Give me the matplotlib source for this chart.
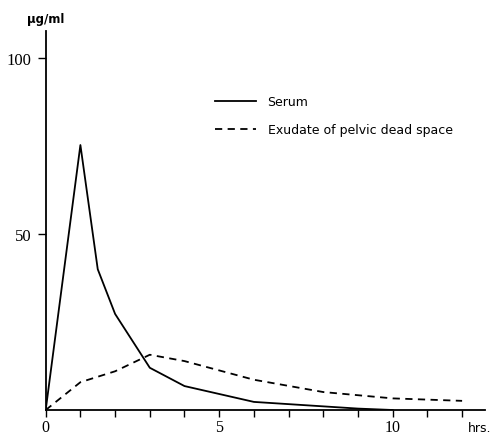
import numpy as np
import matplotlib
matplotlib.use("Agg")
import matplotlib.pyplot as plt

# values (hrs, ug/ml)
serum_t = [0, 1, 1.5, 2, 3, 4, 6, 9, 10]
serum_c = [0, 75.3, 40, 27.3, 12, 6.8, 2.3, 0.4, 0]
exud_t = [0, 1, 2, 3, 4, 6, 8, 10, 12]
exud_c = [0, 7.9, 11, 15.7, 13.9, 8.6, 5.1, 3.3, 2.6]

xtick_pos = list(range(0, 13))
xtick_lab = ['0', '', '', '', '', '5', '', '', '', '', '10', '', '']
ytick_pos = [50, 100]
ytick_lab = ['50', '100']

fig = plt.figure(figsize=(4.95, 4.35), dpi=100)
ax = fig.add_axes([45.7/495, 24/435, (485-45.7)/495, 379/435])

ax.plot(serum_t, serum_c, color='black', lw=1.3, label='Serum')
ax.plot(exud_t, exud_c, color='black', lw=1.3, ls=(0, (4, 3)),
        label='Exudate of pelvic dead space')

ax.set_xlim(0, 12.66)
ax.set_ylim(0, 107.7)
for s in ['top', 'right']:
    ax.spines[s].set_visible(False)
ax.spines['left'].set_linewidth(1.3)
ax.spines['bottom'].set_linewidth(1.3)

ax.set_xticks(xtick_pos)
ax.set_xticklabels(xtick_lab, family='Liberation Serif', fontsize=11.5)
ax.set_yticks(ytick_pos)
ax.set_yticklabels(ytick_lab, family='Liberation Serif', fontsize=12)
ax.tick_params(axis='x', direction='out', length=5, width=1, pad=1.5)
ax.tick_params(axis='y', direction='out', length=6, width=1, pad=4)

ax.text(0.0, 1.015, 'μg/ml', transform=ax.transAxes, ha='center', va='bottom',
        fontsize=8.5, fontweight='bold')
ax.text(0.962, -0.03, 'hrs.', transform=ax.transAxes, ha='left', va='top',
        fontsize=9)

leg = ax.legend(loc='upper left', bbox_to_anchor=(0.36, 0.86), frameon=False,
                handlelength=3.3, handletextpad=0.9, labelspacing=1.2,
                prop={'size': 9})

fig.savefig('out.png', dpi=100)
